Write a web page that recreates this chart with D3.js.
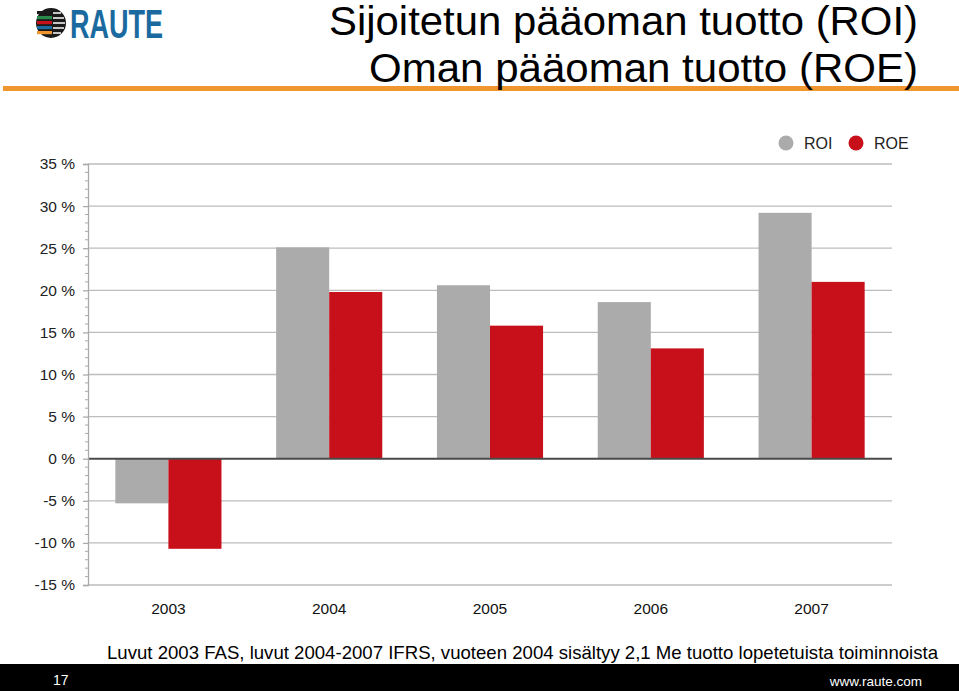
<!DOCTYPE html>
<html>
<head>
<meta charset="utf-8">
<script src="https://cdn.jsdelivr.net/npm/d3@7"></script>
<style>
  body { margin: 0; background: #fff; }
  svg { display: block; font-family: "Liberation Sans", Arial, sans-serif; }
</style>
</head>
<body>
<div id="chart"></div>
<script>
const years = ["2003", "2004", "2005", "2006", "2007"];
const seriesNames = ["ROI", "ROE"];
const roi = [-5.3, 25.1, 20.6, 18.6, 29.2];
const roe = [-10.7, 19.8, 15.8, 13.1, 21.0];
const yTicks = [-15, -10, -5, 0, 5, 10, 15, 20, 25, 30, 35];
const colors = { ROI: "#ababab", ROE: "#c8101a" };

const width = 959, height = 691;
const svg = d3.select("#chart").append("svg")
  .attr("width", width).attr("height", height);

// header: logo, title, orange rule
const logo = svg.append("g").attr("transform", "translate(51,23)");
const stripeCols = ["#1a1a1a", "#2a8a4a", "#c8101a", "#1a6aa0", "#f0962f"];
logo.append("circle").attr("r", 15).attr("fill", "#1a1a1a");
stripeCols.forEach((c, i) => {
  logo.append("rect").attr("x", -14).attr("y", -12 + i * 5).attr("width", 15).attr("height", 3.2).attr("fill", c);
});
logo.append("path").attr("d", "M2,-10 H10 M2,-5 H13 M2,0 H14 M2,5 H13 M2,10 H10")
  .attr("stroke", "#fff").attr("stroke-width", 1.6);
logo.append("text").attr("x", 19).attr("y", 15)
  .attr("font-size", 40).attr("font-weight", "bold").attr("fill", "#1a6aa0")
  .attr("textLength", 93).attr("lengthAdjust", "spacingAndGlyphs")
  .text("RAUTE");

svg.append("rect").attr("x", 3).attr("y", 86).attr("width", width - 3).attr("height", 5).attr("fill", "#f0962f");

const titleLines = ["Sijoitetun pääoman tuotto (ROI)", "Oman pääoman tuotto (ROE)"];
const titleWidths = [589, 549];
svg.append("g").selectAll("text").data(titleLines).join("text")
  .attr("x", 918).attr("y", (d, i) => 35 + i * 47)
  .attr("text-anchor", "end")
  .attr("font-size", 40).attr("fill", "#000")
  .attr("textLength", (d, i) => titleWidths[i]).attr("lengthAdjust", "spacingAndGlyphs")
  .text(d => d);

// chart
const plotLeft = 88, plotRight = 892, plotTop = 164, plotBottom = 585;
const y = d3.scaleLinear().domain([-15, 35]).range([plotBottom, plotTop]);
const x0 = d3.scaleBand().domain(years).range([plotLeft, plotRight]).paddingInner(0.34).paddingOuter(0.17);
const x1 = d3.scaleBand().domain(seriesNames).range([0, x0.bandwidth()]);

const g = svg.append("g");

// gridlines
g.selectAll("line.grid").data(yTicks.filter(d => d !== 0)).join("line")
  .attr("class", "grid")
  .attr("x1", plotLeft).attr("x2", plotRight)
  .attr("y1", d => y(d)).attr("y2", d => y(d))
  .attr("stroke", "#bdbdbd").attr("stroke-width", 1.3);

// bars
const rows = years.map((yr, i) => ({ year: yr, ROI: roi[i], ROE: roe[i] }));
g.selectAll("g.year").data(rows).join("g")
  .attr("class", "year")
  .attr("transform", d => `translate(${x0(d.year)},0)`)
  .selectAll("rect")
  .data(d => seriesNames.map(k => ({ key: k, value: d[k] })))
  .join("rect")
  .attr("x", d => x1(d.key))
  .attr("width", x1.bandwidth())
  .attr("y", d => y(Math.max(0, d.value)))
  .attr("height", d => Math.abs(y(d.value) - y(0)))
  .attr("fill", d => colors[d.key]);

// zero line
g.append("line").attr("x1", plotLeft).attr("x2", plotRight)
  .attr("y1", y(0)).attr("y2", y(0))
  .attr("stroke", "#4a4a4a").attr("stroke-width", 2);

// y axis with minor ticks
const yAxis = d3.axisLeft(y).tickValues(yTicks).tickSize(5).tickFormat(d => `${d} %`);
const ya = svg.append("g").attr("transform", `translate(${plotLeft},0)`).call(yAxis);
ya.select(".domain").attr("stroke", "#aaa").attr("stroke-width", 1.3);
ya.selectAll(".tick line").attr("stroke", "#aaa").attr("stroke-width", 1.3);
ya.selectAll(".tick text").attr("font-size", 15.5).attr("fill", "#222").attr("x", -13)
  .attr("font-family", "\"Liberation Sans\", Arial, sans-serif");
const minor = d3.range(-15, 35, 1).filter(v => v % 5 !== 0);
svg.append("g").selectAll("line").data(minor).join("line")
  .attr("x1", plotLeft - 3).attr("x2", plotLeft)
  .attr("y1", d => y(d)).attr("y2", d => y(d))
  .attr("stroke", "#aaa").attr("stroke-width", 1);

// x labels
svg.append("g").selectAll("text").data(years).join("text")
  .attr("x", d => x0(d) + x0.bandwidth() / 2)
  .attr("y", 614)
  .attr("text-anchor", "middle")
  .attr("font-size", 15.5).attr("fill", "#111")
  .text(d => d);

// legend
const legend = svg.append("g").selectAll("g").data(seriesNames).join("g")
  .attr("transform", (d, i) => `translate(${786 + i * 70},143)`);
legend.append("circle").attr("r", 7.5).attr("fill", d => colors[d]);
legend.append("text").attr("x", 18).attr("y", 6).attr("font-size", 16).attr("fill", "#222").text(d => d);

// footnote and footer
svg.append("text").attr("x", 107).attr("y", 659).attr("font-size", 18.6).attr("fill", "#000")
  .text("Luvut 2003 FAS, luvut 2004-2007 IFRS, vuoteen 2004 sisältyy 2,1 Me tuotto lopetetuista toiminnoista");
svg.append("rect").attr("x", 0).attr("y", 664).attr("width", width).attr("height", 27).attr("fill", "#000");
svg.append("text").attr("x", 53).attr("y", 685).attr("font-size", 14).attr("fill", "#fff").text("17");
svg.append("text").attr("x", 922).attr("y", 686).attr("text-anchor", "end").attr("font-size", 13.5).attr("fill", "#fff").text("www.raute.com");
</script>
</body>
</html>
